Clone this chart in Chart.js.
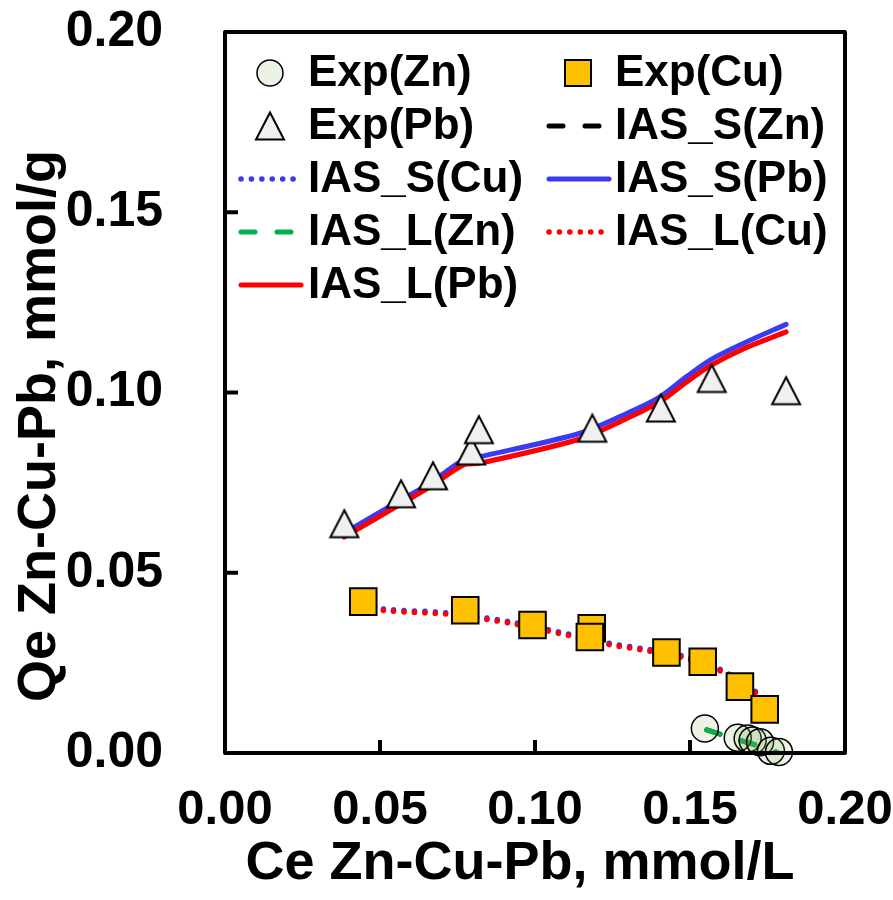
<!DOCTYPE html>
<html><head><meta charset="utf-8">
<script src="https://cdn.jsdelivr.net/npm/chart.js@4.4.0/dist/chart.umd.min.js"></script>
<style>html,body{margin:0;padding:0;background:#fff;}canvas{display:block;}</style>
</head><body>
<canvas id="c" width="893" height="900"></canvas>
<script>
// ---- data ----
const xTickLabels = ['0.00','0.05','0.10','0.15','0.20'];
const yTickLabels = ['0.00','0.05','0.10','0.15','0.20'];
const xTitle = 'Ce Zn-Cu-Pb, mmol/L';
const yTitle = 'Qe Zn-Cu-Pb, mmol/g';
const seriesNames = ['Exp(Zn)','Exp(Cu)','Exp(Pb)','IAS_S(Zn)','IAS_S(Cu)','IAS_S(Pb)','IAS_L(Zn)','IAS_L(Cu)','IAS_L(Pb)'];

const expZnCe = [0.1548,0.1654,0.1686,0.1702,0.1726,0.1761,0.1787];
const expZnQe = [0.0068,0.0042,0.0040,0.0035,0.0030,0.0006,0.0003];
const expCuCe = [0.0446,0.0775,0.0992,0.1183,0.1177,0.1424,0.1541,0.1661,0.1741];
const expCuQe = [0.0420,0.0396,0.0355,0.0346,0.0322,0.0279,0.0253,0.0184,0.0121];
const expPbCe = [0.0385,0.0568,0.0671,0.0794,0.0819,0.1185,0.1406,0.1570,0.1810];
const expPbQe = [0.0636,0.0719,0.0769,0.0838,0.0897,0.0901,0.0957,0.1039,0.1005];

const iasZnCe  = [0.1554,0.1650,0.1720,0.1785];
const iasSZnQe = [0.0064,0.0038,0.0020,0.0000];
const iasLZnQe = [0.0064,0.0038,0.0020,0.0000];
const iasCuCe  = [0.0445,0.0516,0.0715,0.0919,0.1113,0.1242,0.1344,0.1478,0.1602,0.1715,0.1752];
const iasSCuQe = [0.0412,0.0399,0.0389,0.0364,0.0329,0.0304,0.0290,0.0269,0.0230,0.0168,0.0129];
const iasLCuQe = [0.0408,0.0395,0.0385,0.0360,0.0325,0.0300,0.0286,0.0265,0.0226,0.0164,0.0125];
const iasPbCe  = [0.0384,0.0568,0.0661,0.0769,0.0823,0.1145,0.1296,0.1403,0.1489,0.1565,0.1672,0.1810];
const iasSPbQe = [0.0610,0.0702,0.0748,0.0813,0.0822,0.0887,0.0942,0.0988,0.1044,0.1090,0.1136,0.1189];
const iasLPbQe = [0.0599,0.0691,0.0738,0.0799,0.0804,0.0871,0.0928,0.0974,0.1029,0.1074,0.1121,0.1168];

// ---- helpers ----
const pts = (xs, ys) => xs.map((v, i) => ({x: v, y: ys[i]}));
const FONT = '"Liberation Sans", Arial, sans-serif';

// triangle marker centred on its bounding box (like the reference)
function makeTriangle() {
  const c = document.createElement('canvas');
  c.width = 32; c.height = 32;
  const g = c.getContext('2d');
  g.beginPath();
  g.moveTo(16, 2.5); g.lineTo(30, 29.5); g.lineTo(2, 29.5); g.closePath();
  g.fillStyle = '#F0F0F0'; g.fill();
  g.lineWidth = 2; g.lineJoin = 'miter'; g.strokeStyle = '#000'; g.stroke();
  return c;
}
const triImg = makeTriangle();

const BLUE = '#3A3AF4', RED = '#FF0000', GREEN = '#00B050';
const DOT = [0.1, 10.3], DASH = [14, 22];

const datasets = [
  {label: seriesNames[0], data: pts(expZnCe, expZnQe), showLine: false, pointStyle: 'circle', pointRadius: 13.5,
   backgroundColor: 'rgba(112,173,71,0.14)', borderColor: '#000', borderWidth: 1.5, order: 0, clip: false},
  {label: seriesNames[1], data: pts(expCuCe, expCuQe), showLine: false, pointStyle: 'rect', pointRadius: 18.8,
   backgroundColor: '#FFC000', borderColor: '#000', borderWidth: 2, order: 0, clip: false},
  {label: seriesNames[2], data: pts(expPbCe, expPbQe), showLine: false, pointStyle: triImg, pointRadius: 16,
   backgroundColor: '#F0F0F0', borderColor: '#000', borderWidth: 2, order: 0, clip: false},
  {label: seriesNames[3], data: pts(iasZnCe, iasSZnQe), showLine: true, pointRadius: 0, borderColor: '#000',
   borderWidth: 5, borderDash: DASH, borderCapStyle: 'round', tension: 0.3, order: 2},
  {label: seriesNames[4], data: pts(iasCuCe, iasSCuQe), showLine: true, pointRadius: 0, borderColor: BLUE,
   borderWidth: 5.5, borderDash: DOT, borderCapStyle: 'round', tension: 0.3, order: 2},
  {label: seriesNames[5], data: pts(iasPbCe, iasSPbQe), showLine: true, pointRadius: 0, borderColor: BLUE,
   borderWidth: 5, borderCapStyle: 'round', tension: 0.3, order: 2},
  {label: seriesNames[6], data: pts(iasZnCe, iasLZnQe), showLine: true, pointRadius: 0, borderColor: GREEN,
   borderWidth: 5, borderDash: DASH, borderCapStyle: 'round', tension: 0.3, order: 1},
  {label: seriesNames[7], data: pts(iasCuCe, iasLCuQe), showLine: true, pointRadius: 0, borderColor: RED,
   borderWidth: 5.5, borderDash: DOT, borderCapStyle: 'round', tension: 0.3, order: 1},
  {label: seriesNames[8], data: pts(iasPbCe, iasLPbQe), showLine: true, pointRadius: 0, borderColor: RED,
   borderWidth: 5, borderCapStyle: 'round', tension: 0.3, order: 1}
];

// frame with inward ticks
const framePlugin = {
  id: 'frame',
  afterDatasetsDraw(chart) {
    const {ctx, chartArea: a, scales: {x, y}} = chart;
    ctx.save();
    ctx.strokeStyle = '#000';
    ctx.lineWidth = 4; ctx.lineJoin = 'round';
    ctx.strokeRect(a.left, a.top, a.right - a.left, a.bottom - a.top);
    ctx.lineCap = 'butt';
    x.ticks.forEach(t => {
      if (t.value <= x.min || t.value >= x.max) return;
      const px = x.getPixelForValue(t.value);
      ctx.beginPath(); ctx.moveTo(px, a.bottom); ctx.lineTo(px, a.bottom - 13); ctx.stroke();
    });
    y.ticks.forEach(t => {
      if (t.value <= y.min || t.value >= y.max) return;
      const py = y.getPixelForValue(t.value);
      ctx.beginPath(); ctx.moveTo(a.left, py); ctx.lineTo(a.left + 13, py); ctx.stroke();
    });
    ctx.restore();
  }
};

// axis titles
const titlePlugin = {
  id: 'titles',
  afterDraw(chart) {
    const {ctx} = chart;
    ctx.save();
    ctx.fillStyle = '#000';
    ctx.font = 'bold 54px ' + FONT;
    ctx.textAlign = 'center'; ctx.textBaseline = 'middle';
    ctx.fillText(xTitle, 520, 864);
    ctx.translate(40, 426); ctx.rotate(-Math.PI / 2);
    ctx.fillText(yTitle, 0, 0);
    ctx.restore();
  }
};

// two-column legend inside the plot
const legendPlugin = {
  id: 'legend2col',
  afterDraw(chart) {
    const {ctx, chartArea: a} = chart;
    ctx.save();
    ctx.font = 'bold 44px ' + FONT;
    ctx.textBaseline = 'middle'; ctx.textAlign = 'left';
    chart.data.datasets.forEach((ds, i) => {
      const col = i % 2, row = Math.floor(i / 2);
      const mx = a.left + (col === 0 ? 45 : 353);
      const tx = a.left + (col === 0 ? 83 : 390);
      const my = a.top + 41 + row * 53;
      if (!ds.showLine) {
        if (ds.pointStyle === 'circle') {
          ctx.beginPath(); ctx.arc(mx, my, 13, 0, Math.PI * 2);
          ctx.fillStyle = ds.backgroundColor; ctx.fill();
          ctx.lineWidth = ds.borderWidth; ctx.strokeStyle = ds.borderColor; ctx.stroke();
        } else if (ds.pointStyle === 'rect') {
          ctx.fillStyle = ds.backgroundColor; ctx.fillRect(mx - 13, my - 13, 26, 26);
          ctx.lineWidth = ds.borderWidth; ctx.strokeStyle = ds.borderColor; ctx.strokeRect(mx - 13, my - 13, 26, 26);
        } else {
          ctx.drawImage(ds.pointStyle, mx - 16, my - 16);
        }
      } else {
        ctx.beginPath();
        ctx.setLineDash(ds.borderDash || []);
        ctx.lineCap = 'round';
        ctx.lineWidth = ds.borderWidth; ctx.strokeStyle = ds.borderColor;
        ctx.moveTo(mx - 29, my); ctx.lineTo(mx + 31, my); ctx.stroke();
        ctx.setLineDash([]);
      }
      ctx.fillStyle = '#000';
      ctx.fillText(ds.label, tx, my + 1);
    });
    ctx.restore();
  }
};

new Chart(document.getElementById('c'), {
  type: 'scatter',
  data: {datasets},
  options: {
    responsive: false,
    devicePixelRatio: 1,
    animation: false,
    layout: {padding: {top: 32, right: 48, left: 0, bottom: 0}},
    plugins: {legend: {display: false}, tooltip: {enabled: false}},
    scales: {
      x: {
        type: 'linear', min: 0, max: 0.2,
        afterFit: s => { s.height = 147; s.paddingLeft = 0; s.paddingRight = 0; },
        grid: {display: false, drawTicks: false},
        border: {display: false},
        ticks: {stepSize: 0.05, padding: 28, color: '#000', font: {family: FONT, size: 49, weight: 'bold'},
          maxRotation: 0, callback: (v, i) => xTickLabels[i]}
      },
      y: {
        type: 'linear', min: 0, max: 0.2,
        afterFit: s => { s.width = 225; s.paddingTop = 0; s.paddingBottom = 0; },
        grid: {display: false, drawTicks: false},
        border: {display: false},
        ticks: {stepSize: 0.05, padding: 62, color: '#000', font: {family: FONT, size: 50, weight: 'bold'},
          callback: (v, i) => yTickLabels[i]}
      }
    }
  },
  plugins: [framePlugin, titlePlugin, legendPlugin]
});
</script>
</body></html>
